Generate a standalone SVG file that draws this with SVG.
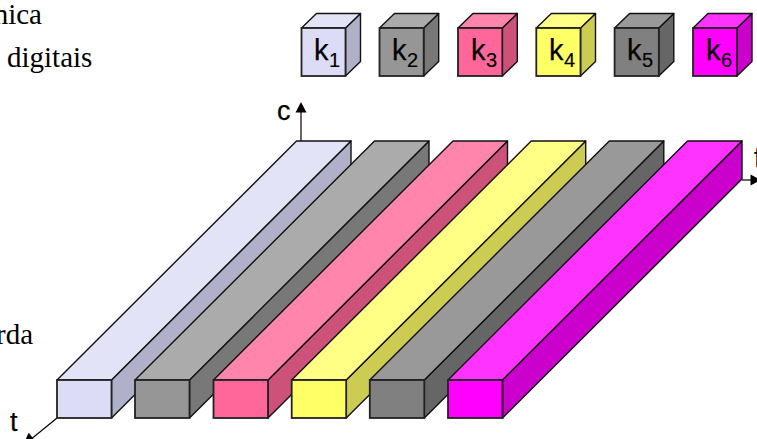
<svg xmlns="http://www.w3.org/2000/svg" width="757" height="439" viewBox="0 0 757 439">
<style>
.s{stroke:#111;stroke-width:1.4;stroke-linejoin:round}
.f{stroke:#222;stroke-width:1.8;stroke-linejoin:miter}
.a{fill:none;stroke:#000;stroke-width:1.2}
.h{fill:#000}
.k{font-family:"Liberation Sans",Arial,sans-serif;font-size:29px;fill:#000;stroke:#000;stroke-width:.25}
.n{font-family:"Liberation Sans",Arial,sans-serif;font-size:20px;fill:#000;stroke:#000;stroke-width:.15}
.l{font-family:"Liberation Sans",Arial,sans-serif;font-size:27px;fill:#000;stroke:#000;stroke-width:.25}
.p{font-family:"Liberation Serif","Times New Roman",serif;font-size:29px;fill:#000}
.c1{fill:#dcdcf6}.t1{fill:#e3e3f8}.r1{fill:#b0b0c8}
.c2{fill:#969696}.t2{fill:#ababab}.r2{fill:#787878}
.c3{fill:#ff6699}.t3{fill:#ff85ad}.r3{fill:#cc527a}
.c4{fill:#ffff66}.t4{fill:#ffff85}.r4{fill:#cccc52}
.c5{fill:#808080}.t5{fill:#999999}.r5{fill:#666666}
.c6{fill:#ff00ff}.t6{fill:#ff33ff}.r6{fill:#cc00cc}
</style>
<g id="page-text">
<text class="p" x="42" y="24" text-anchor="end">nica</text>
<text class="p" x="7" y="67">digitais</text>
<text class="p" x="33" y="344" text-anchor="end">rda</text>
</g>
<g id="connectors">
<path class="a" d="M301 141V110"/><path class="h" d="M301 102l5.500 10.500h-11z"/>
<path class="a" d="M742 180H752"/><path class="h" d="M750.500 174.500l10 5.500-10 5.500z"/>
<path class="a" d="M57 418L30 440"/><path class="h" d="M24 443l4.700-10.200 6.200 7.800z"/>
</g>
<g id="axis-labels">
<text class="l" x="277" y="120">c</text>
<text class="l" x="10" y="431">t</text>
<text class="l" x="754" y="167">f</text>
</g>
<g id="key-1">
<polygon class="r1 s" points="345.5,28 360.5,13.5 360.5,61.5 345.5,76"/><polygon class="t1 s" points="301.5,28 316.5,13.5 360.5,13.5 345.5,28"/><rect class="c1 f" x="301.500" y="28" width="44" height="48"/>
<text class="k" x="314" y="60">k</text><text class="n" x="329" y="67">1</text>
</g>
<g id="key-2">
<polygon class="r2 s" points="423.7,28 438.7,13.5 438.7,61.5 423.7,76"/><polygon class="t2 s" points="379.5,28 394.5,13.5 438.7,13.5 423.7,28"/><rect class="c2 f" x="379.500" y="28" width="44.200" height="48"/>
<text class="k" x="392" y="60">k</text><text class="n" x="407" y="67">2</text>
</g>
<g id="key-3">
<polygon class="r3 s" points="502.3,28 517.3,13.5 517.3,61.5 502.3,76"/><polygon class="t3 s" points="458,28 473,13.5 517.3,13.5 502.3,28"/><rect class="c3 f" x="458" y="28" width="44.300" height="48"/>
<text class="k" x="471" y="60">k</text><text class="n" x="486" y="67">3</text>
</g>
<g id="key-4">
<polygon class="r4 s" points="580.5,28 595.5,13.5 595.5,61.5 580.5,76"/><polygon class="t4 s" points="536.3,28 551.3,13.5 595.5,13.5 580.5,28"/><rect class="c4 f" x="536.300" y="28" width="44.200" height="48"/>
<text class="k" x="549" y="60">k</text><text class="n" x="564" y="67">4</text>
</g>
<g id="key-5">
<polygon class="r5 s" points="658.8,28 673.8,13.5 673.8,61.5 658.8,76"/><polygon class="t5 s" points="614.6,28 629.6,13.5 673.8,13.5 658.8,28"/><rect class="c5 f" x="614.600" y="28" width="44.200" height="48"/>
<text class="k" x="627" y="60">k</text><text class="n" x="642" y="67">5</text>
</g>
<g id="key-6">
<polygon class="r6 s" points="737,28 752,13.5 752,61.5 737,76"/><polygon class="t6 s" points="693,28 708,13.5 752,13.5 737,28"/><rect class="c6 f" x="693" y="28" width="44" height="48"/>
<text class="k" x="706" y="60">k</text><text class="n" x="721" y="67">6</text>
</g>
<g id="bar-1">
<polygon class="r1 s" points="111.5,418 351,179 351,141 111.5,380"/><polygon class="t1 s" points="57,380 296.5,141 351,141 111.5,380"/><rect class="c1 f" x="57" y="380" width="54.500" height="38"/>
</g>
<g id="bar-2">
<polygon class="r2 s" points="189.5,418 429,179 429,141 189.5,380"/><polygon class="t2 s" points="135,380 374.5,141 429,141 189.5,380"/><rect class="c2 f" x="135" y="380" width="54.500" height="38"/>
</g>
<g id="bar-3">
<polygon class="r3 s" points="268,418 507.5,179 507.5,141 268,380"/><polygon class="t3 s" points="213.5,380 453,141 507.5,141 268,380"/><rect class="c3 f" x="213.500" y="380" width="54.500" height="38"/>
</g>
<g id="bar-4">
<polygon class="r4 s" points="346.2,418 585.7,179 585.7,141 346.2,380"/><polygon class="t4 s" points="291.7,380 531.2,141 585.7,141 346.2,380"/><rect class="c4 f" x="291.700" y="380" width="54.500" height="38"/>
</g>
<g id="bar-5">
<polygon class="r5 s" points="424.3,418 663.8,179 663.8,141 424.3,380"/><polygon class="t5 s" points="369.8,380 609.3,141 663.8,141 424.3,380"/><rect class="c5 f" x="369.800" y="380" width="54.500" height="38"/>
</g>
<g id="bar-6">
<polygon class="r6 s" points="502.5,418 742,179 742,141 502.5,380"/><polygon class="t6 s" points="448,380 687.5,141 742,141 502.5,380"/><rect class="c6 f" x="448" y="380" width="54.500" height="38"/>
</g>
</svg>
